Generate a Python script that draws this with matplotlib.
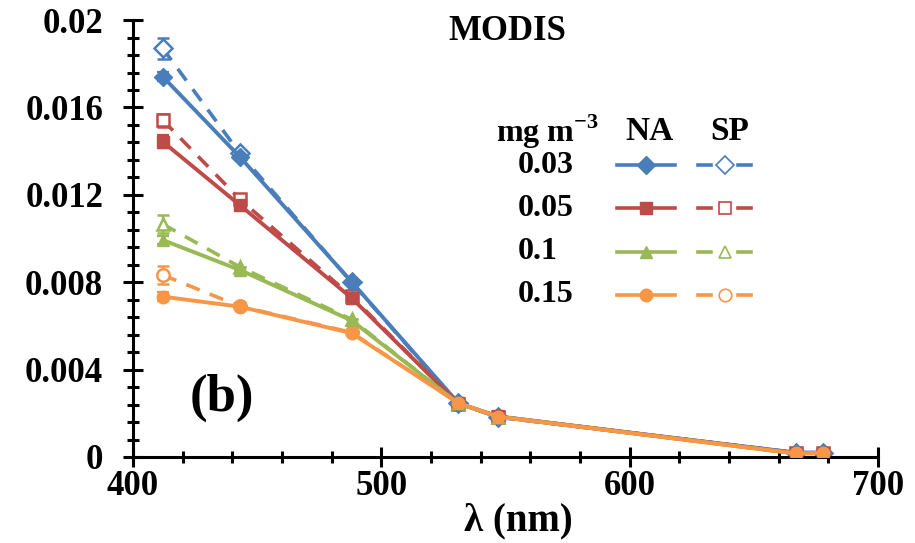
import matplotlib.pyplot as plt
from matplotlib.lines import Line2D
from matplotlib.ticker import MultipleLocator, FuncFormatter

plt.rcParams['font.family'] = ['Liberation Serif', 'DejaVu Serif']
plt.rcParams['font.weight'] = 'bold'
plt.rcParams['mathtext.fontset'] = 'custom'
plt.rcParams['mathtext.bf'] = 'Liberation Serif:bold'

# MODIS bands (nm)
wl = [412, 443, 488, 531, 547, 667, 678]

chl = ['0.03', '0.05', '0.1', '0.15']
colors = ['#4A7EBB', '#BE4B48', '#98B954', '#F79646']
markers = ['D', 's', '^', 'o']

# North Atlantic (solid)
na = [
    [0.01741, 0.01374, 0.00802, 0.00247, 0.00184, 0.00020, 0.00020],
    [0.01443, 0.01153, 0.00728, 0.00245, 0.00186, 0.00018, 0.00019],
    [0.00993, 0.00856, 0.00625, 0.00245, 0.00185, 0.00016, 0.00018],
    [0.00734, 0.00688, 0.00567, 0.00247, 0.00184, 0.00016, 0.00018],
]
na_err = [0.0002, 0.0003, 0.0002, 0.0002]
# South Pacific (dashed, open markers)
sp = [
    [0.01870, 0.01390, 0.00800, 0.00245, 0.00182, 0.00020, 0.00020],
    [0.01542, 0.01180, 0.00735, 0.00244, 0.00185, 0.00018, 0.00019],
    [0.01066, 0.00870, 0.00630, 0.00245, 0.00185, 0.00016, 0.00018],
    [0.00833, 0.00690, 0.00570, 0.00246, 0.00184, 0.00016, 0.00018],
]
sp_err = [0.0005, 0.0003, 0.0004, 0.0004]

fig = plt.figure(figsize=(9.15, 5.43), dpi=100)
ax = fig.add_axes([0.1454, 0.1584, 0.8142, 0.8046])

for i in range(4):
    err = [sp_err[i]] + [0] * (len(wl) - 1)
    ax.errorbar(wl, sp[i], yerr=err, color=colors[i], lw=2.6, ls=(0, (4, 3)),
                marker=markers[i], ms=9, mfc='white', mec=colors[i], mew=1.8,
                capsize=4, elinewidth=1.6, capthick=1.6, zorder=2)
for i in range(4):
    err = [na_err[i]] + [0] * (len(wl) - 1)
    ax.errorbar(wl, na[i], yerr=err, color=colors[i], lw=2.8, marker=markers[i],
                ms=9, mfc=colors[i], mec=colors[i], capsize=4,
                elinewidth=1.6, capthick=1.6, zorder=3)

ax.set_xlim(400, 700)
ax.set_ylim(0, 0.02)
ax.xaxis.set_major_locator(MultipleLocator(100))
ax.xaxis.set_minor_locator(MultipleLocator(20))
ax.yaxis.set_major_locator(MultipleLocator(0.004))
ax.yaxis.set_minor_locator(MultipleLocator(0.0008))
ax.yaxis.set_major_formatter(FuncFormatter(lambda v, p: '%g' % round(v, 4)))
for s in ['top', 'right']:
    ax.spines[s].set_visible(False)
for s in ['left', 'bottom']:
    ax.spines[s].set_linewidth(2.2)
ax.tick_params(which='major', direction='inout', length=15, width=2.2,
               labelsize=25)
ax.tick_params(which='minor', direction='inout', length=9, width=2.2)
ax.tick_params(axis='y', which='major', pad=14)
ax.tick_params(axis='x', which='major', pad=2)

fig.text(518 / 915, 1 - 521 / 543, 'λ (nm)', fontsize=28, fontweight='bold',
         ha='center', va='center')

ax.text(0.503, 0.975, 'MODIS', transform=ax.transAxes, fontsize=25,
        fontweight='bold', ha='center', va='center')
ax.text(0.119, 0.135, '(b)', transform=ax.transAxes, fontsize=38,
        fontweight='bold', ha='center', va='center')

# legend as a small table
hy = 0.744
ax.text(0.556, hy, r'mg m$^{\mathbf{-3}}$', transform=ax.transAxes,
        fontsize=23, fontweight='bold', ha='center', va='center')
ax.text(0.693, hy, 'NA', transform=ax.transAxes, fontsize=24,
        fontweight='bold', ha='center', va='center')
ax.text(0.801, hy, 'SP', transform=ax.transAxes, fontsize=24,
        fontweight='bold', ha='center', va='center')
for i in range(4):
    y = 0.668 - i * 0.099
    ax.text(0.517, y, chl[i], transform=ax.transAxes, fontsize=23,
            fontweight='bold', ha='left', va='center')
    ax.add_line(Line2D([0.650, 0.727], [y, y], transform=ax.transAxes,
                       color=colors[i], lw=2.6))
    ax.add_line(Line2D([0.689], [y], transform=ax.transAxes, color=colors[i],
                       marker=markers[i], ms=9, lw=0))
    for x0, x1 in [(0.758, 0.776), (0.812, 0.830)]:
        ax.add_line(Line2D([x0, x1], [y, y], transform=ax.transAxes,
                           color=colors[i], lw=2.6))
    ax.add_line(Line2D([0.795], [y], transform=ax.transAxes, color=colors[i],
                       marker=markers[i], ms=9, mfc='white', mew=1.2, lw=0))

fig.savefig('out.png', dpi=100)
